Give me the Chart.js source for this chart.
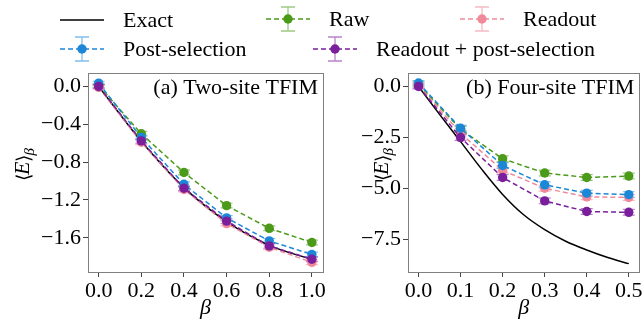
<!DOCTYPE html>
<html>
<head>
<meta charset="utf-8">
<script src="https://cdn.jsdelivr.net/npm/chart.js@4.4.1/dist/chart.umd.min.js"></script>
<style>
  body { margin: 0; background: #fff; }
  #wrap { position: relative; width: 644px; height: 325px; overflow: hidden; }
  canvas.panel { position: absolute; top: 0; }
  .lg { position: absolute; font-family: 'Liberation Serif', 'Times New Roman', serif; font-size: 22px; line-height: 22px; white-space: nowrap; color: #000; }
  .hd { position: absolute; }
</style>
</head>
<body>
<div id="wrap">
  <canvas id="chartA" class="panel" width="330" height="325" style="left:0"></canvas>
  <canvas id="chartB" class="panel" width="314" height="325" style="left:330px"></canvas>
  <div id="legend"></div>
</div>
<script>
// panel (a): two-site TFIM
const betaA = [0.0, 0.2, 0.4, 0.6, 0.8, 1.0];
const exactA = [0.0, -0.58, -1.07, -1.43, -1.68, -1.83];
const rawA = [0.01, -0.50, -0.91, -1.26, -1.50, -1.65];
const readoutA = [-0.01, -0.59, -1.09, -1.45, -1.70, -1.86];
const postA = [0.035, -0.54, -1.035, -1.39, -1.633, -1.777];
const bothA = [0.0, -0.576, -1.077, -1.424, -1.686, -1.827];
const errA = [0.02, 0.025, 0.025, 0.025, 0.025, 0.025];
const xTicksA = [0.0, 0.2, 0.4, 0.6, 0.8, 1.0];
const yTicksA = [0.0, -0.4, -0.8, -1.2, -1.6];

// panel (b): four-site TFIM
const betaB = [0.0, 0.1, 0.2, 0.3, 0.4, 0.5];
const betaExactB = [0.0, 0.05, 0.1, 0.15, 0.2, 0.25, 0.3, 0.35, 0.4, 0.45, 0.5];
const exactB = [0.0, -1.37, -2.71, -4.06, -5.30, -6.30, -7.03, -7.60, -8.03, -8.40, -8.70];
const rawB = [0.10, -2.10, -3.55, -4.25, -4.47, -4.40];
const readoutB = [0.05, -2.30, -4.12, -5.00, -5.42, -5.45];
const postB = [0.17, -2.05, -3.88, -4.83, -5.24, -5.31];
const bothB = [0.0, -2.51, -4.47, -5.62, -6.14, -6.18];
const errB = [0.12, 0.14, 0.14, 0.14, 0.14, 0.14];
const xTicksB = [0.0, 0.1, 0.2, 0.3, 0.4, 0.5];
const yTicksB = [0.0, -2.5, -5.0, -7.5];

const SERIF = "'Liberation Serif', 'Times New Roman', serif";
const C = {
  raw: '#4c9a1a', rawErr: 'rgba(76,154,26,0.55)',
  readout: '#f08a9b', readoutErr: 'rgba(240,138,155,0.6)',
  post: '#1b87d6', postErr: 'rgba(27,135,214,0.55)',
  both: '#7a1f9c', bothErr: 'rgba(122,31,156,0.55)'
};

function pts(xs, ys) {
  return xs.map((x, i) => ({x: x, y: ys[i]}));
}

function fmt(v) {
  return v.toFixed(1).replace('-', '\u2212');
}

function series(label, xs, ys, color, errColor, errs, order) {
  return {
    label: label, data: pts(xs, ys), errors: errs, errColor: errColor, order: order,
    borderColor: color, backgroundColor: color, borderWidth: 1.5, borderDash: [5, 3],
    pointRadius: 4.7, pointHoverRadius: 4.7, pointBorderWidth: 0, pointBackgroundColor: color,
    tension: 0, clip: false
  };
}

// error bars, drawn under the markers
const errorBars = {
  id: 'errorBars',
  beforeDatasetsDraw(chart) {
    const ctx = chart.ctx, x = chart.scales.x, y = chart.scales.y;
    chart.data.datasets.slice().sort((a, b) => b.order - a.order).forEach(ds => {
      if (!ds.errors) return;
      ctx.save();
      ctx.strokeStyle = ds.errColor;
      ctx.lineWidth = 1.2;
      ds.data.forEach((p, j) => {
        const px = x.getPixelForValue(p.x);
        const y1 = y.getPixelForValue(p.y + ds.errors[j]);
        const y2 = y.getPixelForValue(p.y - ds.errors[j]);
        ctx.beginPath();
        ctx.moveTo(px, y1); ctx.lineTo(px, y2);
        ctx.moveTo(px - 6, y1); ctx.lineTo(px + 6, y1);
        ctx.moveTo(px - 6, y2); ctx.lineTo(px + 6, y2);
        ctx.stroke();
      });
      ctx.restore();
    });
  }
};

// frame, panel label and y title
const decor = {
  id: 'decor',
  afterDraw(chart, args, opts) {
    const ctx = chart.ctx, a = chart.chartArea;
    ctx.save();
    ctx.strokeStyle = '#808080';
    ctx.lineWidth = 1;
    ctx.strokeRect(Math.round(a.left) + 0.5, Math.round(a.top) + 0.5,
      Math.round(a.right - a.left), Math.round(a.bottom - a.top));
    ctx.fillStyle = '#000';
    ctx.font = '22px ' + SERIF;
    ctx.textAlign = 'right';
    ctx.textBaseline = 'middle';
    ctx.fillText(opts.label, a.right - 5, a.top + 15);

    // rotated y title: <E> with subscript beta
    ctx.translate(opts.titleX, (a.top + a.bottom) / 2 - 9);
    ctx.rotate(-Math.PI / 2);
    ctx.textAlign = 'left';
    ctx.textBaseline = 'alphabetic';
    const f1 = '19px ' + SERIF, f2 = 'italic 22px ' + SERIF, f3 = 'italic 15px ' + SERIF;
    ctx.font = f1; const w1 = ctx.measureText('\u27E8').width, w3 = ctx.measureText('\u27E9').width;
    ctx.font = f2; const w2 = ctx.measureText('E').width;
    ctx.font = f3; const w4 = ctx.measureText('\u03B2').width;
    let cx = -(w1 + w2 + w3 + w4) / 2;
    const base = 7;
    ctx.font = f1; ctx.fillText('\u27E8', cx, base + 1); cx += w1 - 1;
    ctx.font = f2; ctx.fillText('E', cx, base); cx += w2;
    ctx.font = f1; ctx.fillText('\u27E9', cx, base + 1); cx += w3 - 1;
    ctx.font = f3; ctx.fillText('\u03B2', cx, base + 5);
    ctx.restore();
  }
};

function makeChart(id, cfg) {
  const datasets = [
    {
      label: 'Exact', data: pts(cfg.exactX, cfg.exact), order: 5,
      borderColor: '#000', borderWidth: 1.5, pointRadius: 0, cubicInterpolationMode: 'monotone'
    },
    series('Post-selection', cfg.beta, cfg.post, C.post, C.postErr, cfg.err, 2),
    series('Raw', cfg.beta, cfg.raw, C.raw, C.rawErr, cfg.err, 4),
    series('Readout + post-selection', cfg.beta, cfg.both, C.both, C.bothErr, cfg.err, 1),
    series('Readout', cfg.beta, cfg.readout, C.readout, C.readoutErr, cfg.err, 3)
  ];
  return new Chart(document.getElementById(id), {
    type: 'line',
    data: {datasets: datasets},
    options: {
      responsive: false,
      animation: false,
      devicePixelRatio: 1,
      layout: {padding: {left: 0, right: cfg.padRight, top: 73, bottom: 0}},
      plugins: {
        legend: {display: false},
        tooltip: {enabled: false},
        decor: {label: cfg.label, titleX: cfg.titleX}
      },
      scales: {
        x: {
          type: 'linear', min: cfg.xMin, max: cfg.xMax,
          afterBuildTicks: s => { s.ticks = cfg.xTicks.map(v => ({value: v})); },
          afterFit: s => { s.height = 53; },
          border: {display: false},
          grid: {drawOnChartArea: false, drawTicks: true, tickLength: 5, tickColor: '#444'},
          ticks: {color: '#000', font: {family: SERIF, size: 22}, padding: 1, maxRotation: 0, callback: v => fmt(v)},
          title: {display: true, text: '\u03B2', color: '#000', font: {family: SERIF, size: 22, style: 'italic'}, padding: {top: 0, bottom: 4}}
        },
        y: {
          type: 'linear', min: cfg.yMin, max: cfg.yMax,
          afterBuildTicks: s => { s.ticks = cfg.yTicks.map(v => ({value: v})); },
          afterFit: s => { s.width = cfg.yWidth; },
          border: {display: false},
          grid: {drawOnChartArea: false, drawTicks: true, tickLength: 5, tickColor: '#444'},
          ticks: {color: '#000', font: {family: SERIF, size: 22}, padding: 2, callback: v => fmt(v)}
        }
      }
    },
    plugins: [errorBars, decor]
  });
}

makeChart('chartA', {
  beta: betaA, exactX: betaA, exact: exactA, raw: rawA, readout: readoutA, post: postA, both: bothA, err: errA,
  xTicks: xTicksA, yTicks: yTicksA, xMin: -0.05, xMax: 1.052, yMin: -1.962, yMax: 0.142,
  yWidth: 88, padRight: 7, titleX: 22, label: '(a) Two-site TFIM'
});

makeChart('chartB', {
  beta: betaB, exactX: betaExactB, exact: exactB, raw: rawB, readout: readoutB, post: postB, both: bothB, err: errB,
  xTicks: xTicksB, yTicks: yTicksB, xMin: -0.025, xMax: 0.525, yMin: -9.11, yMax: 0.66,
  yWidth: 78, padRight: 2, titleX: 51, label: '(b) Four-site TFIM'
});

// legend (handles drawn on small canvases)
const legendItems = [
  {label: 'Exact', color: '#000', x: 82, y: 20, textX: 123, solid: true},
  {label: 'Raw', color: C.raw, err: C.rawErr, x: 288, y: 19, textX: 329},
  {label: 'Readout', color: C.readout, err: C.readoutErr, x: 482, y: 19, textX: 523},
  {label: 'Post-selection', color: C.post, err: C.postErr, x: 82, y: 49, textX: 123},
  {label: 'Readout + post-selection', color: C.both, err: C.bothErr, x: 335, y: 49, textX: 376}
];

const legend = document.getElementById('legend');
legendItems.forEach(it => {
  const cv = document.createElement('canvas');
  cv.width = 50; cv.height = 30; cv.className = 'hd';
  cv.style.left = (it.x - 25) + 'px';
  cv.style.top = (it.y - 15) + 'px';
  const g = cv.getContext('2d');
  g.strokeStyle = it.color;
  g.lineWidth = 1.5;
  if (it.solid) {
    g.beginPath(); g.moveTo(3, 15); g.lineTo(47, 15); g.stroke();
  } else {
    g.setLineDash([5, 3]);
    g.beginPath(); g.moveTo(3, 15); g.lineTo(47, 15); g.stroke();
    g.setLineDash([]);
    g.strokeStyle = it.err;
    g.lineWidth = 1.3;
    g.beginPath();
    g.moveTo(25, 3); g.lineTo(25, 27);
    g.moveTo(18, 3); g.lineTo(32, 3);
    g.moveTo(18, 27); g.lineTo(32, 27);
    g.stroke();
    g.fillStyle = it.color;
    g.beginPath(); g.arc(25, 15, 4.7, 0, Math.PI * 2); g.fill();
  }
  legend.appendChild(cv);
  const t = document.createElement('div');
  t.className = 'lg';
  t.textContent = it.label;
  t.style.left = it.textX + 'px';
  t.style.top = (it.y - 11) + 'px';
  legend.appendChild(t);
});
</script>
</body>
</html>
